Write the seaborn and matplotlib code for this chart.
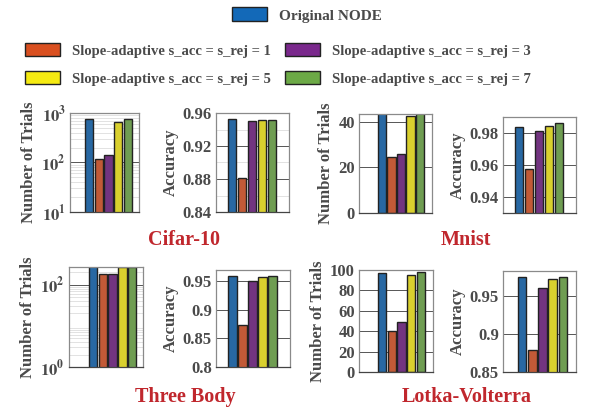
import numpy as np
import pandas as pd
import matplotlib
matplotlib.use("Agg")
import matplotlib.pyplot as plt
import matplotlib.ticker as mticker
from matplotlib.patches import Patch
import seaborn as sns

# Data
methods = ['Original NODE',
           'Slope-adaptive s_acc = s_rej = 1',
           'Slope-adaptive s_acc = s_rej = 3',
           'Slope-adaptive s_acc = s_rej = 5',
           'Slope-adaptive s_acc = s_rej = 7']
colors = ['#1369B8', '#D94F20', '#7A288C', '#F5EA12', '#6CA946']

cifar_trials = [768, 117, 143, 660, 760]
cifar_acc = [0.953, 0.8815, 0.950, 0.952, 0.952]
mnist_trials = [44, 24.5, 26, 42.5, 44]
mnist_acc = [0.9838, 0.9573, 0.981, 0.9844, 0.9865]
three_trials = [280, 186, 180, 268, 268]
three_acc = [0.959, 0.874, 0.949, 0.957, 0.959]
lotka_trials = [96.7, 40.6, 49.2, 94.7, 98.0]
lotka_acc = [0.9756, 0.8797, 0.961, 0.973, 0.9756]

titles = ['Cifar-10', 'Mnist', 'Three Body', 'Lotka-Volterra']

sns.set_theme(style='white')
plt.rcParams['font.family'] = ['Liberation Serif', 'DejaVu Serif']
plt.rcParams['font.weight'] = 'bold'
plt.rcParams['mathtext.fontset'] = 'stix'
plt.rcParams['mathtext.default'] = 'bf'

txt_color = '#4a4a4a'
W, H = 592, 411
fig = plt.figure(figsize=(W / 100, H / 100), dpi=100)


def box(x0, y0, x1, y1):
    return [x0 / W, 1 - y1 / H, (x1 - x0) / W, (y1 - y0) / H]


def panel(rect, values, ylabel, ylim, xlim, log=False, major=None, minor=None,
          labels=None):
    ax = fig.add_axes(rect)
    df = pd.DataFrame({'method': methods, 'value': values})
    sns.barplot(data=df, x='method', y='value', hue='method', palette=colors,
                order=methods, hue_order=methods, width=0.85, legend=False,
                edgecolor='#222222', linewidth=1.0, ax=ax)
    if log:
        ax.set_yscale('log')
        ax.yaxis.set_minor_locator(mticker.LogLocator(base=10, subs=np.arange(2, 10)))
        ax.yaxis.set_minor_formatter(mticker.NullFormatter())
    else:
        ax.yaxis.set_minor_locator(mticker.FixedLocator(minor or []))
    ax.set_yticks(major)
    if labels is not None:
        ax.set_yticklabels(labels)
    ax.set_ylim(*ylim)
    ax.set_xlim(*xlim)
    ax.set_xticks([])
    ax.set_xlabel('')
    ax.set_ylabel(ylabel, fontsize=12, fontweight='bold', color=txt_color,
                  labelpad=3)
    ax.grid(True, which='major', axis='y', color='#555555', linewidth=0.7)
    ax.grid(True, which='minor', axis='y', color='#dddddd', linewidth=0.6)
    ax.set_axisbelow(True)
    ax.tick_params(axis='y', which='both', direction='in', length=2.5,
                   labelsize=12, labelcolor=txt_color, pad=3, color='#555555')
    for side, sp in ax.spines.items():
        sp.set_visible(True)
        sp.set_color('#8a8a8a')
        sp.set_linewidth(0.9)
    ax.spines['bottom'].set_color('#444444')
    for lab in ax.get_yticklabels():
        lab.set_fontweight('bold')
    return ax


# Row 1
panel(box(70, 113, 139, 212), cifar_trials, 'Number of Trials', (10, 1000),
      (-1.96, 5.13), log=True, major=[10, 100, 1000],
      labels=[r'$10^1$', r'$10^2$', r'$10^3$'])
panel(box(216, 113, 289, 212), cifar_acc, 'Accuracy', (0.84, 0.96),
      (-1.6, 5.7), major=[0.84, 0.88, 0.92, 0.96], minor=[0.86, 0.90, 0.94],
      labels=['0.84', '0.88', '0.92', '0.96'])
panel(box(359, 114, 432, 213), mnist_trials, 'Number of Trials', (0, 43.5),
      (-2.4, 5.25), major=[0, 20, 40], labels=['0', '20', '40'])
panel(box(503, 117, 576, 213), mnist_acc, 'Accuracy', (0.93, 0.99),
      (-1.6, 5.7), major=[0.94, 0.96, 0.98],
      labels=['0.94', '0.96', '0.98'])

# Row 2
panel(box(69, 267, 143, 367), three_trials, 'Number of Trials', (1, 270),
      (-2.45, 5.1), log=True, major=[1, 100],
      labels=[r'$10^0$', r'$10^2$'])
panel(box(216, 270, 290, 367), three_acc, 'Accuracy', (0.8, 0.969),
      (-1.6, 5.7), major=[0.8, 0.85, 0.9, 0.95],
      labels=['0.8', '0.85', '0.9', '0.95'])
panel(box(359, 270, 433, 372), lotka_trials, 'Number of Trials', (0, 100),
      (-2.4, 5.25), major=[0, 20, 40, 60, 80, 100],
      labels=['0', '20', '40', '60', '80', '100'])
panel(box(503, 271, 576, 372), lotka_acc, 'Accuracy', (0.85, 0.9835),
      (-1.86, 5.27), major=[0.85, 0.9, 0.95],
      labels=['0.85', '0.9', '0.95'])

# Dataset titles
title_color = '#C0272D'
title_pos = [(184, 240), (466, 240), (185, 397), (467, 397)]
for t, (x, y) in zip(titles, title_pos):
    fig.text(x / W, 1 - y / H, t, ha='center', va='center', fontsize=14.5,
             fontweight='bold', color=title_color)

# Legends
handles = [Patch(facecolor=c, edgecolor='#222222', linewidth=1.0) for c in colors]
leg1 = fig.legend([handles[0]], [methods[0]], loc='center',
                  bbox_to_anchor=(307 / W, 1 - 15 / H), frameon=False,
                  fontsize=11, handlelength=2.3, handleheight=1.0,
                  handletextpad=0.8, labelcolor=txt_color)
order = [1, 3, 2, 4]
leg2 = fig.legend([handles[i] for i in order], [methods[i] for i in order],
                  loc='center', bbox_to_anchor=(278 / W, 1 - 64.5 / H), ncol=2,
                  frameon=False, fontsize=10.5, handlelength=2.4,
                  handleheight=1.0, handletextpad=0.8, columnspacing=1.0,
                  labelspacing=0.95, labelcolor=txt_color)
for leg in (leg1, leg2):
    for text in leg.get_texts():
        text.set_fontweight('bold')

fig.savefig('out.png', dpi=100)
